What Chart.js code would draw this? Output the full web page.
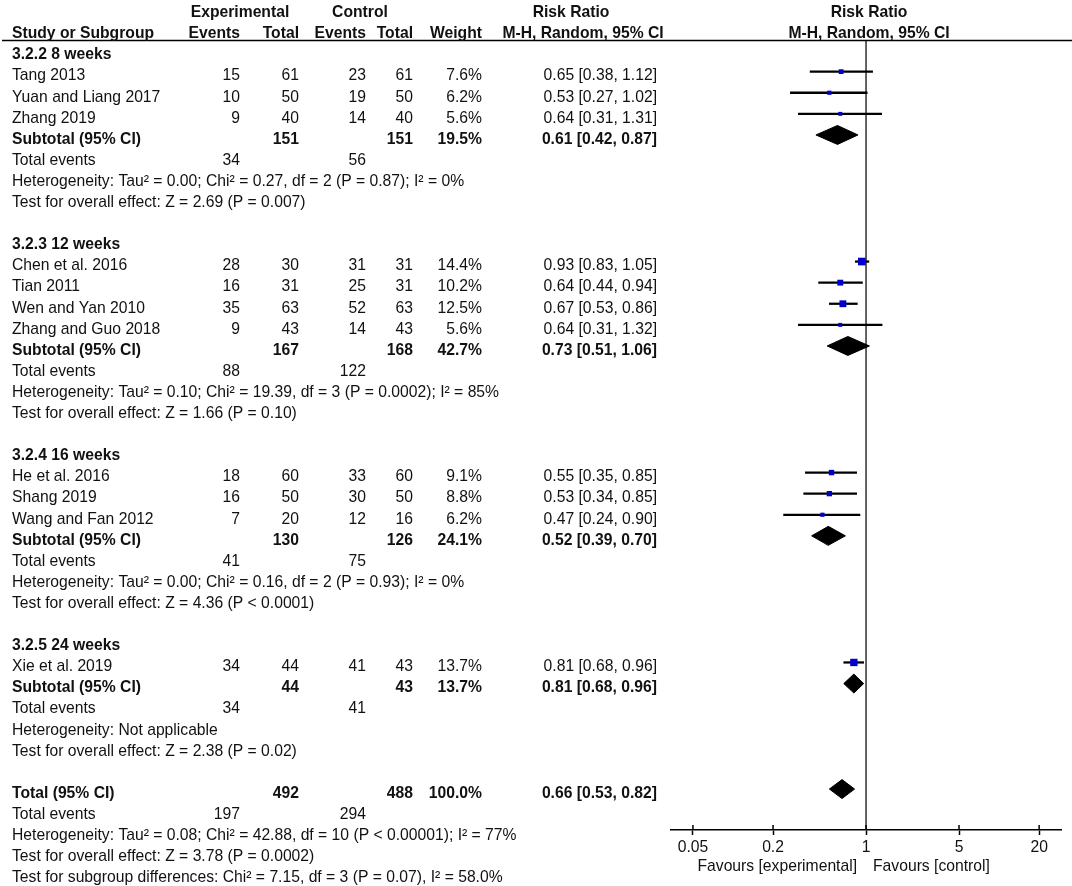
<!DOCTYPE html>
<html><head><meta charset="utf-8">
<script src="https://cdn.jsdelivr.net/npm/chart.js@4.4.0/dist/chart.umd.min.js"></script>
<style>html,body{margin:0;padding:0;background:#fff;}#wrap{width:1072px;height:886px;position:relative;}canvas{display:block;}</style>
</head><body><div id="wrap"><canvas id="c" width="1072" height="886"></canvas></div>
<script>
// ---------------- data ----------------
const groupNames = ['3.2.2 8 weeks', '3.2.3 12 weeks', '3.2.4 16 weeks', '3.2.5 24 weeks'];
const studyGroup = [0, 0, 0, 1, 1, 1, 1, 2, 2, 2, 3];
const studyNames = ['Tang 2013', 'Yuan and Liang 2017', 'Zhang 2019', 'Chen et al. 2016', 'Tian 2011', 'Wen and Yan 2010', 'Zhang and Guo 2018', 'He et al. 2016', 'Shang 2019', 'Wang and Fan 2012', 'Xie et al. 2019'];
const expEvents = [15, 10, 9, 28, 16, 35, 9, 18, 16, 7, 34];
const expTotal = [61, 50, 40, 30, 31, 63, 43, 60, 50, 20, 44];
const ctlEvents = [23, 19, 14, 31, 25, 52, 14, 33, 30, 12, 41];
const ctlTotal = [61, 50, 40, 31, 31, 63, 43, 60, 50, 16, 43];
const weights = [7.6, 6.2, 5.6, 14.4, 10.2, 12.5, 5.6, 9.1, 8.8, 6.2, 13.7];
const rr = [0.65, 0.53, 0.64, 0.93, 0.64, 0.67, 0.64, 0.55, 0.53, 0.47, 0.81];
const rrLo = [0.38, 0.27, 0.31, 0.83, 0.44, 0.53, 0.31, 0.35, 0.34, 0.24, 0.68];
const rrHi = [1.12, 1.02, 1.31, 1.05, 0.94, 0.86, 1.32, 0.85, 0.85, 0.90, 0.96];

const subExpTotal = [151, 167, 130, 44];
const subCtlTotal = [151, 168, 126, 43];
const subWeight = [19.5, 42.7, 24.1, 13.7];
const subRR = [0.61, 0.73, 0.52, 0.81];
const subLo = [0.42, 0.51, 0.39, 0.68];
const subHi = [0.87, 1.06, 0.70, 0.96];
const subExpEvents = [34, 88, 41, 34];
const subCtlEvents = [56, 122, 75, 41];
const subHet = ['Tau² = 0.00; Chi² = 0.27, df = 2 (P = 0.87); I² = 0%', 'Tau² = 0.10; Chi² = 19.39, df = 3 (P = 0.0002); I² = 85%', 'Tau² = 0.00; Chi² = 0.16, df = 2 (P = 0.93); I² = 0%', 'Not applicable'];
const subTest = ['Z = 2.69 (P = 0.007)', 'Z = 1.66 (P = 0.10)', 'Z = 4.36 (P < 0.0001)', 'Z = 2.38 (P = 0.02)'];

const overallTotals = [492, 488];
const overallWeight = 100.0;
const overallRR = [0.66, 0.53, 0.82];
const overallEvents = [197, 294];
const overallHet = 'Tau² = 0.08; Chi² = 42.88, df = 10 (P < 0.00001); I² = 77%';
const overallTest = 'Z = 3.78 (P = 0.0002)';
const subgroupDiff = 'Chi² = 7.15, df = 3 (P = 0.07), I² = 58.0%';

const tickValues = [0.05, 0.2, 1, 5, 20];

// ---------------- row layout ----------------
const rows = [];
const studyRow = [];
const subRow = [];
let overallRow = 0;
groupNames.forEach((g, gi) => {
  rows.push({kind: 'heading', text: g});
  studyGroup.forEach((sg, si) => { if (sg === gi) { studyRow[si] = rows.length; rows.push({kind: 'study', i: si}); } });
  subRow[gi] = rows.length;
  rows.push({kind: 'subtotal', g: gi});
  rows.push({kind: 'events', e: subExpEvents[gi], c: subCtlEvents[gi]});
  rows.push({kind: 'note', text: 'Heterogeneity: ' + subHet[gi]});
  rows.push({kind: 'note', text: 'Test for overall effect: ' + subTest[gi]});
  rows.push({kind: 'blank'});
});
overallRow = rows.length;
rows.push({kind: 'overall'});
rows.push({kind: 'events', e: overallEvents[0], c: overallEvents[1]});
rows.push({kind: 'note', text: 'Heterogeneity: ' + overallHet});
rows.push({kind: 'note', text: 'Test for overall effect: ' + overallTest});
rows.push({kind: 'note', text: 'Test for subgroup differences: ' + subgroupDiff});

// ---------------- styling ----------------
const FONT = '"Liberation Sans", Arial, Helvetica, sans-serif';
const FS = 15.7;
const TEXT = '#111';
const COL = {name: 12, expE: 240, expT: 299, ctlE: 366, ctlT: 413, wt: 482, rr: 657};
const DIAMOND_H = 0.45;
const fmtRR = (v, l, h) => v.toFixed(2) + ' [' + l.toFixed(2) + ', ' + h.toFixed(2) + ']';

// datasets
const ciData = studyNames.map((_, i) => ({y: studyRow[i], x: [rrLo[i], rrHi[i]]}));
const sqData = studyNames.map((_, i) => ({x: rr[i], y: studyRow[i]}));
const sqRadius = weights.map(w => (0.42 * w + 1.6) / Math.SQRT2);

function diamond(est, lo, hi, r) {
  return {
    type: 'line',
    data: [{x: lo, y: r}, {x: est, y: r - DIAMOND_H}, {x: hi, y: r}, {x: est, y: r + DIAMOND_H}, {x: lo, y: r}],
    borderColor: '#000', backgroundColor: '#000', borderWidth: 1,
    fill: 'shape', pointRadius: 0, pointHoverRadius: 0, tension: 0, order: 1
  };
}
const diamonds = subRR.map((v, g) => diamond(v, subLo[g], subHi[g], subRow[g]));
diamonds.push(diamond(overallRR[0], overallRR[1], overallRR[2], overallRow));

const forestPlugin = {
  id: 'forest',
  beforeDatasetsDraw(chart) {
    const {ctx, chartArea, scales: {x}} = chart;
    const x1 = x.getPixelForValue(1);
    ctx.save();
    ctx.strokeStyle = '#3c3c3c'; ctx.lineWidth = 1.6;
    ctx.beginPath(); ctx.moveTo(x1, chartArea.top); ctx.lineTo(x1, chartArea.bottom); ctx.stroke();
    ctx.restore();
  },
  afterDraw(chart) {
    const {ctx, chartArea, scales: {x, y}} = chart;
    ctx.save();
    // header rule
    ctx.strokeStyle = '#000'; ctx.lineWidth = 1.5;
    ctx.beginPath(); ctx.moveTo(2, chartArea.top + 0.5); ctx.lineTo(chart.width, chartArea.top + 0.5); ctx.stroke();
    // upper half of tick marks
    x.ticks.forEach(t => {
      const px = x.getPixelForValue(t.value);
      ctx.beginPath(); ctx.moveTo(px, chartArea.bottom - 5); ctx.lineTo(px, chartArea.bottom); ctx.stroke();
    });
    ctx.fillStyle = TEXT;
    ctx.textBaseline = 'middle';
    const put = (txt, px, py, align, bold) => {
      ctx.font = (bold ? 'bold ' : '') + FS + 'px ' + FONT;
      ctx.textAlign = align;
      ctx.fillText(String(txt), px, py);
    };
    const ty = r => y.getPixelForValue(r) + 4.5;
    // headers
    const h1 = ty(-2), h2 = ty(-1);
    const xc = x.getPixelForValue(1) + 3;
    put('Experimental', 240, h1, 'center', true);
    put('Control', 360, h1, 'center', true);
    put('Risk Ratio', 571, h1, 'center', true);
    put('Risk Ratio', xc, h1, 'center', true);
    put('Study or Subgroup', COL.name, h2, 'left', true);
    put('Events', COL.expE, h2, 'right', true);
    put('Total', COL.expT, h2, 'right', true);
    put('Events', COL.ctlE, h2, 'right', true);
    put('Total', COL.ctlT, h2, 'right', true);
    put('Weight', COL.wt, h2, 'right', true);
    put('M-H, Random, 95% CI', 583, h2, 'center', true);
    put('M-H, Random, 95% CI', xc, h2, 'center', true);
    rows.forEach((r, idx) => {
      const py = ty(idx);
      if (r.kind === 'heading') put(r.text, COL.name, py, 'left', true);
      else if (r.kind === 'study') {
        const i = r.i;
        put(studyNames[i], COL.name, py, 'left', false);
        put(expEvents[i], COL.expE, py, 'right', false);
        put(expTotal[i], COL.expT, py, 'right', false);
        put(ctlEvents[i], COL.ctlE, py, 'right', false);
        put(ctlTotal[i], COL.ctlT, py, 'right', false);
        put(weights[i].toFixed(1) + '%', COL.wt, py, 'right', false);
        put(fmtRR(rr[i], rrLo[i], rrHi[i]), COL.rr, py, 'right', false);
      } else if (r.kind === 'subtotal') {
        const g = r.g;
        put('Subtotal (95% CI)', COL.name, py, 'left', true);
        put(subExpTotal[g], COL.expT, py, 'right', true);
        put(subCtlTotal[g], COL.ctlT, py, 'right', true);
        put(subWeight[g].toFixed(1) + '%', COL.wt, py, 'right', true);
        put(fmtRR(subRR[g], subLo[g], subHi[g]), COL.rr, py, 'right', true);
      } else if (r.kind === 'events') {
        put('Total events', COL.name, py, 'left', false);
        put(r.e, COL.expE, py, 'right', false);
        put(r.c, COL.ctlE, py, 'right', false);
      } else if (r.kind === 'note') {
        put(r.text, COL.name, py, 'left', false);
      } else if (r.kind === 'overall') {
        put('Total (95% CI)', COL.name, py, 'left', true);
        put(overallTotals[0], COL.expT, py, 'right', true);
        put(overallTotals[1], COL.ctlT, py, 'right', true);
        put(overallWeight.toFixed(1) + '%', COL.wt, py, 'right', true);
        put(fmtRR(overallRR[0], overallRR[1], overallRR[2]), COL.rr, py, 'right', true);
      }
    });
    // favours labels
    const x1 = x.getPixelForValue(1);
    const fy = chartArea.bottom + 37;
    put('Favours [experimental]', x1 - 9, fy, 'right', false);
    put('Favours [control]', x1 + 7, fy, 'left', false);
    ctx.restore();
  }
};

new Chart(document.getElementById('c'), {
  data: {
    datasets: [
      {type: 'scatter', data: sqData, pointStyle: 'rect', pointRadius: sqRadius, pointHoverRadius: sqRadius,
       backgroundColor: '#0000CC', borderWidth: 0, order: 0},
      ...diamonds,
      {type: 'bar', indexAxis: 'y', data: ciData, backgroundColor: '#000', borderWidth: 0,
       barThickness: 1.6, grouped: false, order: 2}
    ]
  },
  options: {
    responsive: false,
    animation: false,
    events: [],
    layout: {padding: {left: 671, right: 11, top: 40, bottom: 26}},
    plugins: {legend: {display: false}, tooltip: {enabled: false}},
    scales: {
      x: {
        type: 'logarithmic', position: 'bottom', min: 0.0342, max: 29.2, offset: false,
        afterBuildTicks: s => { s.ticks = tickValues.map(v => ({value: v})); },
        afterFit: s => { s.height = 30; },
        ticks: {callback: v => String(v), autoSkip: false, maxRotation: 0, padding: 3,
                color: TEXT, font: {family: FONT, size: FS}},
        border: {display: true, color: '#000', width: 1.5},
        grid: {display: true, drawOnChartArea: false, drawTicks: true, tickLength: 5, tickColor: '#000', tickWidth: 1.5}
      },
      y: {type: 'linear', reverse: true, min: -0.5, max: 36.94, offset: false, bounds: 'data', grace: 0,
          display: false, grid: {display: false, offset: false}, ticks: {display: false}}
    }
  },
  plugins: [forestPlugin]
});
</script></body></html>
